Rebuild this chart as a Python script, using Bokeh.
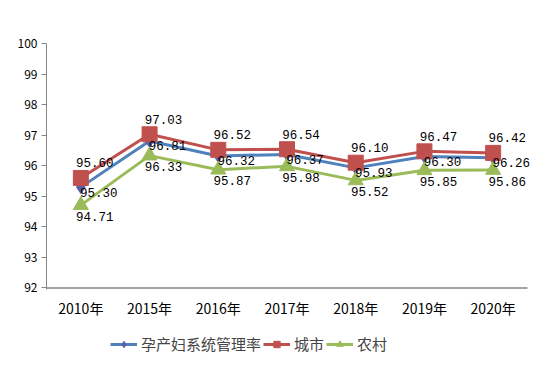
from bokeh.plotting import figure
from bokeh.layouts import column
from bokeh.models import ColumnDataSource, Legend, LegendItem, FixedTicker, Range1d, LabelSet
from bokeh.core.properties import value
from bokeh.embed import file_html
from bokeh.resources import INLINE

years = ["2010年", "2015年", "2016年", "2017年", "2018年", "2019年", "2020年"]
total = [95.30, 96.81, 96.32, 96.37, 95.93, 96.30, 96.26]
urban = [95.60, 97.03, 96.52, 96.54, 96.10, 96.47, 96.42]
rural = [94.71, 96.33, 95.87, 95.98, 95.52, 95.85, 95.86]
names = ["孕产妇系统管理率", "城市", "农村"]
y_ticks = [92, 93, 94, 95, 96, 97, 98, 99, 100]

n = len(years)
xs = [i + 0.5 for i in range(n)]
# frame extends a little past the last category so right-hand labels are not clipped
p = figure(x_range=Range1d(0, n * 500 / 481), y_range=Range1d(91.95, 100), width=546, height=320,
           output_backend="svg", toolbar_location=None,
           min_border_left=46, min_border_right=0, min_border_top=43, min_border_bottom=31)
p.outline_line_color = None
p.xgrid.grid_line_color = None
p.ygrid.grid_line_color = None
p.background_fill_color = "white"

p.yaxis.ticker = FixedTicker(ticks=y_ticks)
p.yaxis.axis_line_color = "#868686"
p.yaxis.major_tick_line_color = "#868686"
p.yaxis.major_tick_out = 5
p.yaxis.major_tick_in = 0
p.yaxis.minor_tick_line_color = None
p.yaxis.major_label_text_font = "Noto Sans CJK SC"
p.yaxis.major_label_text_font_size = "12px"
p.yaxis.major_label_text_color = "black"
p.yaxis.major_label_standoff = 4

p.xaxis.ticker = FixedTicker(ticks=xs)
p.xaxis.major_label_overrides = {x: lab for x, lab in zip(xs, years)}
p.xaxis.axis_line_color = None
p.xaxis.major_tick_line_color = None
p.xaxis.minor_tick_line_color = None
p.xaxis.major_label_text_font = "Noto Sans CJK SC"
p.xaxis.major_label_text_font_size = "14px"
p.xaxis.major_label_text_color = "black"
p.xaxis.major_label_standoff = 2

# category axis line spanning the categories only
p.segment(x0=[0], y0=[y_ticks[0]], x1=[n], y1=[y_ticks[0]], line_color="#868686", line_width=1.5)

src = ColumnDataSource(dict(x=xs, t=total, u=urban, r=rural,
                            tl=["%.2f" % v for v in total],
                            ul=["%.2f" % v for v in urban],
                            rl=["%.2f" % v for v in rural]))

blue, blue_m = "#4F81BD", "#5B5FA8"
red = "#C0504D"
green = "#9BBB59"

p.line("x", "t", source=src, line_color=blue, line_width=3)
p.scatter("x", "t", source=src, marker="diamond", size=13, fill_color=blue_m, line_color=blue_m)
p.line("x", "u", source=src, line_color=red, line_width=3)
p.scatter("x", "u", source=src, marker="square", size=15, fill_color=red, line_color=red)
p.line("x", "r", source=src, line_color=green, line_width=3)
p.scatter("x", "r", source=src, marker="triangle", size=15, fill_color=green, line_color=green)

lab_font = value("Liberation Mono")
for ycol, tcol, dx, dy in [("u", "ul", 14, 15), ("t", "tl", 18, -5), ("r", "rl", 14, -11)]:
    p.add_layout(LabelSet(x="x", y=ycol, text=tcol, source=src, x_offset=dx, y_offset=dy,
                          text_font=lab_font, text_font_size="12.5px", text_align="center",
                          text_baseline="middle", text_color="black"))

# legend strip below the chart
q = figure(x_range=(0, 1), y_range=(0, 1), width=546, height=38,
           output_backend="svg", toolbar_location=None,
           min_border_left=0, min_border_right=0, min_border_top=0, min_border_bottom=0)
q.axis.visible = False
q.grid.visible = False
q.outline_line_color = None
off = ColumnDataSource(dict(x=[-10, -9], y=[-10, -10]))
a1 = q.line("x", "y", source=off, line_color=blue, line_width=3)
b1 = q.scatter("x", "y", source=off, marker="diamond", size=12, fill_color=blue_m, line_color=blue_m)
a2 = q.line("x", "y", source=off, line_color=red, line_width=3)
b2 = q.scatter("x", "y", source=off, marker="square", size=11, fill_color=red, line_color=red)
a3 = q.line("x", "y", source=off, line_color=green, line_width=3)
b3 = q.scatter("x", "y", source=off, marker="triangle", size=11, fill_color=green, line_color=green)

legend = Legend(items=[LegendItem(label=names[0], renderers=[a1, b1]),
                       LegendItem(label=names[1], renderers=[a2, b2]),
                       LegendItem(label=names[2], renderers=[a3, b3])],
                orientation="horizontal", location=(64, 4),
                label_text_font="Noto Sans CJK SC", label_text_font_size="15px",
                glyph_width=27, glyph_height=16, label_standoff=4, spacing=2,
                padding=2, margin=0, border_line_color=None, background_fill_alpha=0)
q.add_layout(legend, "center")

layout = column(p, q, spacing=0)
open("out.html", "w").write(file_html(layout, INLINE))
